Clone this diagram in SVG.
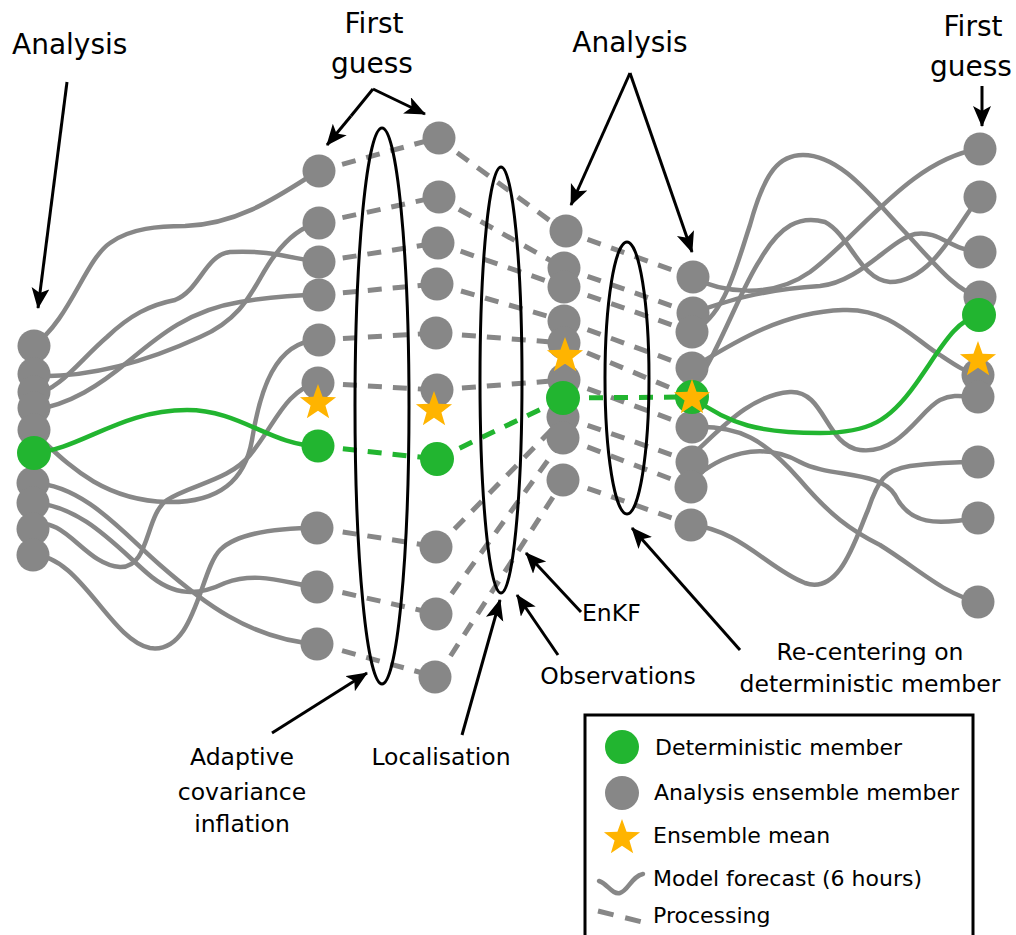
<svg xmlns="http://www.w3.org/2000/svg" xmlns:xlink="http://www.w3.org/1999/xlink" width="1016" height="935" viewBox="0 0 1016 935">
<style>
.fc{fill:none;stroke:#878787;stroke-width:4.5;stroke-linecap:round}
.fg{fill:none;stroke:#22b530;stroke-width:4.5;stroke-linecap:round}
.pd{fill:none;stroke:#878787;stroke-width:5;stroke-dasharray:14 11}
.pg{fill:none;stroke:#22b530;stroke-width:5;stroke-dasharray:14 11}
.n{fill:#878787}
.d{fill:#22b530}
.s{fill:#ffb400}
.el{fill:none;stroke:#000;stroke-width:3}
.ar{fill:none;stroke:#000;stroke-width:3;marker-end:url(#ah)}
.ln{fill:none;stroke:#000;stroke-width:3}
text{font-family:"DejaVu Sans",Verdana,sans-serif;fill:#000}
.t1{font-size:28px}
.t2{font-size:23.5px}
.t3{font-size:22px}
</style>
<defs>
<marker id="ah" markerUnits="userSpaceOnUse" markerWidth="24" markerHeight="20" refX="20" refY="9" orient="auto">
<path d="M0,0 L21,9 L0,18 L5,9 z" fill="#000"/>
</marker>
<polygon id="star" points="0,-19 4.58,-6.31 18.07,-5.87 7.42,2.41 11.17,15.37 0,7.8 -11.17,15.37 -7.42,2.41 -18.07,-5.87 -4.58,-6.31"/>
</defs>
<rect width="1016" height="935" fill="#fff"/>

<g id="connectors">
<path class="fc" d="M33,346 C70,320 85,260 110,243 C130,228 160,226 185,226 C240,224 280,195 318,171"/>
<path class="fc" d="M33,376 C90,378 150,360 200,337 C250,315 255,280 275,255 C290,235 305,226 318,223"/>
<path class="fc" d="M33,395 C60,390 80,360 107,337 C130,315 150,305 175,300 C200,290 205,255 230,252 C270,250 290,258 318,262"/>
<path class="fc" d="M33,410 C70,405 100,385 130,360 C160,335 190,310 240,302 C270,297 295,295 318,295"/>
<path class="fc" d="M33,432 C60,455 95,500 167,502 C220,503 245,480 252,440 C260,390 275,342 318,340"/>
<path class="fc" d="M33,525 C65,515 85,565 120,567 C150,568 145,515 167,500 C190,485 230,480 250,455 C275,425 285,390 318,383"/>
<path class="fc" d="M33,555 C80,555 110,640 150,648 C195,655 200,570 220,550 C240,530 290,528 318,528"/>
<path class="fc" d="M33,503 C80,505 115,545 147,573 C175,598 200,595 225,583 C260,570 290,585 318,587"/>
<path class="fc" d="M33,483 C85,485 125,535 160,565 C200,600 250,640 318,644"/>
<path class="fg" d="M33,453 C80,450 120,410 187,410 C240,410 270,445 318,446"/>
<path class="pd" d="M318,171 L437,138"/>
<path class="pd" d="M318,223 L437,197"/>
<path class="pd" d="M318,262 L437,243"/>
<path class="pd" d="M318,295 L437,284"/>
<path class="pd" d="M318,340 L437,333"/>
<path class="pd" d="M318,383 L437,390"/>
<path class="pd" d="M318,528 L437,547"/>
<path class="pd" d="M318,587 L437,614"/>
<path class="pd" d="M318,644 L437,677"/>
<path class="pg" d="M318,446 L437,459"/>
<path class="pd" d="M437,138 L564,231"/>
<path class="pd" d="M437,197 L564,268"/>
<path class="pd" d="M437,243 L564,287"/>
<path class="pd" d="M437,284 L564,321"/>
<path class="pd" d="M437,333 L564,343"/>
<path class="pd" d="M437,390 L564,380"/>
<path class="pd" d="M437,547 L564,417"/>
<path class="pd" d="M437,614 L564,438"/>
<path class="pd" d="M437,677 L564,480"/>
<path class="pg" d="M437,459 L564,398"/>
<path class="pd" d="M564,231 L692,277"/>
<path class="pd" d="M564,268 L692,313"/>
<path class="pd" d="M564,287 L692,332"/>
<path class="pd" d="M564,321 L692,368"/>
<path class="pd" d="M564,343 L692,397"/>
<path class="pd" d="M564,380 L692,427"/>
<path class="pd" d="M564,417 L692,462"/>
<path class="pd" d="M564,438 L692,487"/>
<path class="pd" d="M564,480 L692,525"/>
<path class="pg" d="M564,398 L692,397"/>
<path class="fc" d="M692,277 C720,292 770,300 810,272 C860,235 910,160 979,149"/>
<path class="fc" d="M692,313 C730,300 760,290 820,286 C860,282 890,240 915,234 C940,230 950,250 979,252"/>
<path class="fc" d="M692,332 C725,315 735,270 750,225 C765,170 780,155 803,155 C840,155 870,195 905,232 C935,264 955,290 979,297"/>
<path class="fc" d="M692,368 C730,345 780,312 843,310 C890,308 915,340 940,355 C955,365 965,372 979,375"/>
<path class="fc" d="M692,390 C720,350 740,290 760,260 C780,225 800,215 825,222 C850,235 860,280 890,282 C930,282 955,230 979,197"/>
<path class="fc" d="M692,427 C740,425 765,440 800,480 C830,515 850,530 880,545 C920,570 945,595 979,602"/>
<path class="fc" d="M692,455 C720,430 750,395 790,392 C825,390 825,445 860,450 C900,455 920,410 940,400 C955,393 965,397 979,397"/>
<path class="fc" d="M692,480 C720,455 760,440 800,462 C830,478 880,470 895,495 C910,525 935,525 979,518"/>
<path class="fc" d="M692,525 C740,530 770,570 805,583 C840,595 855,540 868,510 C878,480 885,470 910,466 C940,462 960,462 979,462"/>
<path class="fg" d="M692,397 C730,425 760,433 820,433 C870,433 890,420 915,385 C940,350 955,320 979,315"/>
</g>

<g id="col-analysis-left">
<g id="a1"><circle class="n" cx="34" cy="346" r="16.5"/></g>
<g id="a2"><circle class="n" cx="34" cy="374" r="16.5"/></g>
<g id="a3"><circle class="n" cx="34" cy="392" r="16.5"/></g>
<g id="a4"><circle class="n" cx="34" cy="408" r="16.5"/></g>
<g id="a5"><circle class="n" cx="34" cy="430" r="16.5"/></g>
<g id="a6"><circle class="n" cx="33" cy="483" r="16.5"/></g>
<g id="a7"><circle class="n" cx="33" cy="503" r="16.5"/></g>
<g id="a8"><circle class="n" cx="33" cy="529" r="16.5"/></g>
<g id="a9"><circle class="n" cx="33" cy="555" r="16.5"/></g>
<g id="a-det"><circle class="d" cx="34" cy="453" r="17"/></g>
</g>

<g id="col-firstguess-left">
<g id="b1"><circle class="n" cx="319" cy="171" r="16.5"/></g>
<g id="b2"><circle class="n" cx="319" cy="223" r="16.5"/></g>
<g id="b3"><circle class="n" cx="319" cy="262" r="16.5"/></g>
<g id="b4"><circle class="n" cx="319" cy="295" r="16.5"/></g>
<g id="b5"><circle class="n" cx="319" cy="340" r="16.5"/></g>
<g id="b6"><circle class="n" cx="318" cy="383" r="16.5"/></g>
<g id="b7"><circle class="n" cx="317" cy="528" r="16.5"/></g>
<g id="b8"><circle class="n" cx="317" cy="587" r="16.5"/></g>
<g id="b9"><circle class="n" cx="317" cy="644" r="16.5"/></g>
<g id="b-det"><circle class="d" cx="318" cy="446" r="16.5"/></g>
<g id="b-mean"><use xlink:href="#star" class="s" x="318" y="403"/></g>
</g>

<g id="col-inflated">
<g id="c1"><circle class="n" cx="439" cy="138" r="16.5"/></g>
<g id="c2"><circle class="n" cx="439" cy="197" r="16.5"/></g>
<g id="c3"><circle class="n" cx="438" cy="243" r="16.5"/></g>
<g id="c4"><circle class="n" cx="437" cy="284" r="16.5"/></g>
<g id="c5"><circle class="n" cx="436" cy="333" r="16.5"/></g>
<g id="c6"><circle class="n" cx="437" cy="390" r="16.5"/></g>
<g id="c7"><circle class="n" cx="436" cy="547" r="16.5"/></g>
<g id="c8"><circle class="n" cx="436" cy="614" r="16.5"/></g>
<g id="c9"><circle class="n" cx="435" cy="677" r="16.5"/></g>
<g id="c-det"><circle class="d" cx="437" cy="459" r="17"/></g>
<g id="c-mean"><use xlink:href="#star" class="s" x="434" y="410"/></g>
</g>

<g id="col-analysis-mid">
<g id="d1"><circle class="n" cx="566" cy="231" r="16.5"/></g>
<g id="d2"><circle class="n" cx="564" cy="268" r="16.5"/></g>
<g id="d3"><circle class="n" cx="564" cy="287" r="16.5"/></g>
<g id="d4"><circle class="n" cx="564" cy="321" r="16.5"/></g>
<g id="d5"><circle class="n" cx="564" cy="343" r="16.5"/></g>
<g id="d6"><circle class="n" cx="564" cy="380" r="16.5"/></g>
<g id="d7"><circle class="n" cx="563" cy="417" r="16.5"/></g>
<g id="d8"><circle class="n" cx="563" cy="438" r="16.5"/></g>
<g id="d9"><circle class="n" cx="563" cy="480" r="16.5"/></g>
<g id="d-det"><circle class="d" cx="563" cy="398" r="17"/></g>
<g id="d-mean"><use xlink:href="#star" class="s" x="565" y="356"/></g>
</g>

<g id="col-recentred">
<g id="e1"><circle class="n" cx="693" cy="277" r="16.5"/></g>
<g id="e2"><circle class="n" cx="693" cy="313" r="16.5"/></g>
<g id="e3"><circle class="n" cx="692" cy="332" r="16.5"/></g>
<g id="e4"><circle class="n" cx="692" cy="368" r="16.5"/></g>
<g id="e5"><circle class="n" cx="692" cy="427" r="16.5"/></g>
<g id="e6"><circle class="n" cx="692" cy="462" r="16.5"/></g>
<g id="e7"><circle class="n" cx="691" cy="487" r="16.5"/></g>
<g id="e8"><circle class="n" cx="691" cy="525" r="16.5"/></g>
<g id="e-det"><circle class="d" cx="692" cy="397" r="17"/></g>
<g id="e-mean"><use xlink:href="#star" class="s" x="692" y="398"/></g>
</g>

<g id="col-firstguess-right">
<g id="f1"><circle class="n" cx="980" cy="149" r="16.5"/></g>
<g id="f2"><circle class="n" cx="980" cy="197" r="16.5"/></g>
<g id="f3"><circle class="n" cx="980" cy="252" r="16.5"/></g>
<g id="f4"><circle class="n" cx="980" cy="297" r="16.5"/></g>
<g id="f5"><circle class="n" cx="978" cy="375" r="16.5"/></g>
<g id="f6"><circle class="n" cx="978" cy="397" r="16.5"/></g>
<g id="f7"><circle class="n" cx="978" cy="462" r="16.5"/></g>
<g id="f8"><circle class="n" cx="978" cy="518" r="16.5"/></g>
<g id="f9"><circle class="n" cx="978" cy="602" r="16.5"/></g>
<g id="f-det"><circle class="d" cx="979" cy="315" r="17"/></g>
<g id="f-mean"><use xlink:href="#star" class="s" x="978" y="360"/></g>
</g>

<g id="ellipses">
<ellipse id="inflation-ellipse" class="el" cx="382" cy="406" rx="27" ry="278"/>
<ellipse id="enkf-ellipse" class="el" cx="501" cy="380" rx="21" ry="213"/>
<ellipse id="recentre-ellipse" class="el" cx="627" cy="378" rx="22" ry="136"/>
</g>

<g id="annotations">
<text class="t1" x="12" y="54">Analysis</text>
<path class="ar" d="M67,82 L38,308"/>
<text class="t1" x="374" y="33" text-anchor="middle">First</text>
<text class="t1" x="372" y="73" text-anchor="middle">guess</text>
<path class="ln" d="M373,89 L351,116"/>
<path class="ar" d="M351,116 L327,145"/>
<path class="ar" d="M373,89 L425,114"/>
<text class="t1" x="630" y="52" text-anchor="middle">Analysis</text>
<path class="ar" d="M630,73 L571,205"/>
<path class="ar" d="M630,73 L692,252"/>
<text class="t1" x="973" y="36" text-anchor="middle">First</text>
<text class="t1" x="971" y="76" text-anchor="middle">guess</text>
<path class="ar" d="M982,86 L982,126"/>
<text class="t2" x="242" y="765" text-anchor="middle">Adaptive</text>
<text class="t2" x="242" y="800" text-anchor="middle">covariance</text>
<text class="t2" x="242" y="832" text-anchor="middle">inflation</text>
<path class="ar" d="M272,733 L367,673"/>
<text class="t2" x="441" y="765" text-anchor="middle">Localisation</text>
<path class="ar" d="M462,735 L500,600"/>
<text class="t2" x="582" y="621" font-size="24.5">EnKF</text>
<path class="ar" d="M581,612 L526,553"/>
<text class="t2" x="618" y="684" text-anchor="middle">Observations</text>
<path class="ar" d="M558,655 L517,595"/>
<text class="t2" x="870" y="660" text-anchor="middle">Re-centering on</text>
<text class="t2" x="870" y="692" text-anchor="middle">deterministic member</text>
<path class="ar" d="M740,650 L632,528"/>
</g>

<g id="legend">
<rect x="585" y="715" width="388" height="235" fill="#fff" stroke="#000" stroke-width="3"/>
<circle class="d" cx="622" cy="747" r="17"/>
<text class="t3" x="655" y="755">Deterministic member</text>
<circle class="n" cx="622" cy="793" r="17"/>
<text class="t3" x="654" y="800">Analysis ensemble member</text>
<use xlink:href="#star" class="s" x="622" y="838"/>
<text class="t3" x="653" y="843">Ensemble mean</text>
<path class="fc" d="M599,881 C608,884 612,895 620,893 C628,891 632,876 643,874"/>
<text class="t3" x="653" y="886">Model forecast (6 hours)</text>
<path class="pd" d="M598,911 L642,922" style="stroke-dasharray:16 12"/>
<text class="t3" x="653" y="923">Processing</text>
</g>
</svg>
